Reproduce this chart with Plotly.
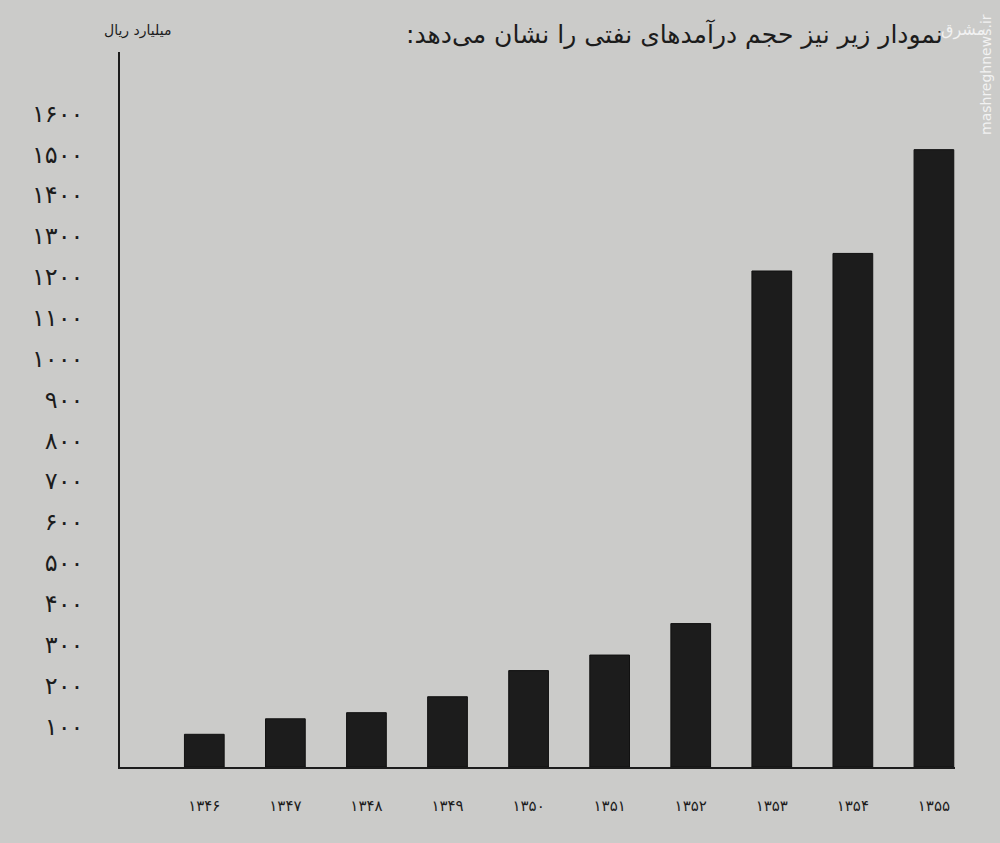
import plotly.graph_objects as go

years = ["۱۳۴۶", "۱۳۴۷", "۱۳۴۸", "۱۳۴۹", "۱۳۵۰", "۱۳۵۱", "۱۳۵۲", "۱۳۵۳", "۱۳۵۴", "۱۳۵۵"]
revenue = [80, 118, 133, 172, 236, 274, 351, 1214, 1257, 1511]
tick_vals = [100, 200, 300, 400, 500, 600, 700, 800, 900, 1000, 1100, 1200, 1300, 1400, 1500, 1600]
tick_text = ["۱۰۰", "۲۰۰", "۳۰۰", "۴۰۰", "۵۰۰", "۶۰۰", "۷۰۰", "۸۰۰", "۹۰۰", "۱۰۰۰",
             "۱۱۰۰", "۱۲۰۰", "۱۳۰۰", "۱۴۰۰", "۱۵۰۰", "۱۶۰۰"]
title_text = "\u200fنمودار زیر نیز حجم درآمدهای نفتی را نشان می‌دهد:\u200f"
unit_text = "میلیارد ریال"

paper = "#cbcbc9"
ink = "#1c1c1c"
font = "DejaVu Sans, Noto Sans, sans-serif"

fig = go.Figure(go.Bar(
    x=years, y=revenue,
    marker=dict(color=ink, line=dict(color="#111111", width=1)),
    hoverinfo="x+y",
))

fig.update_layout(
    width=1000, height=843,
    paper_bgcolor=paper, plot_bgcolor=paper,
    margin=dict(l=120, r=45, t=52, b=76),
    bargap=0.51,
    showlegend=False,
    font=dict(family=font, color=ink),
    xaxis=dict(
        type="category", range=[-1.04, 9.26],
        showline=True, linecolor=ink, linewidth=1.5,
        showgrid=False, zeroline=False,
        ticks="outside", ticklen=24, tickcolor=paper,
        tickfont=dict(size=15, color=ink),
    ),
    yaxis=dict(
        range=[0, 1750],
        tickvals=tick_vals, ticktext=tick_text,
        showline=True, linecolor=ink, linewidth=1.5,
        showgrid=False, zeroline=False,
        ticks="outside", ticklen=30, tickcolor=paper,
        tickfont=dict(size=24, color=ink),
    ),
    annotations=[
        dict(text=title_text, x=945, y=35, xref="paper", yref="paper",
             showarrow=False, font=dict(size=25, color=ink, family=font)),
        dict(text=unit_text, x=173, y=30, xref="paper", yref="paper",
             showarrow=False, font=dict(size=14, color=ink, family=font)),
        dict(text="mashreghnews.ir", x=986, y=75, xref="paper", yref="paper",
             showarrow=False, textangle=-90,
             font=dict(size=14, color="#f2f2f2", family=font)),
        dict(text="مشرق", x=963, y=30, xref="paper", yref="paper",
             showarrow=False, font=dict(size=16, color="#f2f2f2", family=font)),
    ],
)

# convert pixel positions of annotations to paper coordinates
pw = 1000 - 120 - 45
ph = 843 - 52 - 76
for a in fig.layout.annotations:
    px, py = a.x, a.y
    a.x = (px - 120) / pw
    a.y = (843 - 76 - py) / ph
    a.xanchor = "right" if px in (945, 173) else "center"
    a.yanchor = "middle"

fig.write_html("out.html")
